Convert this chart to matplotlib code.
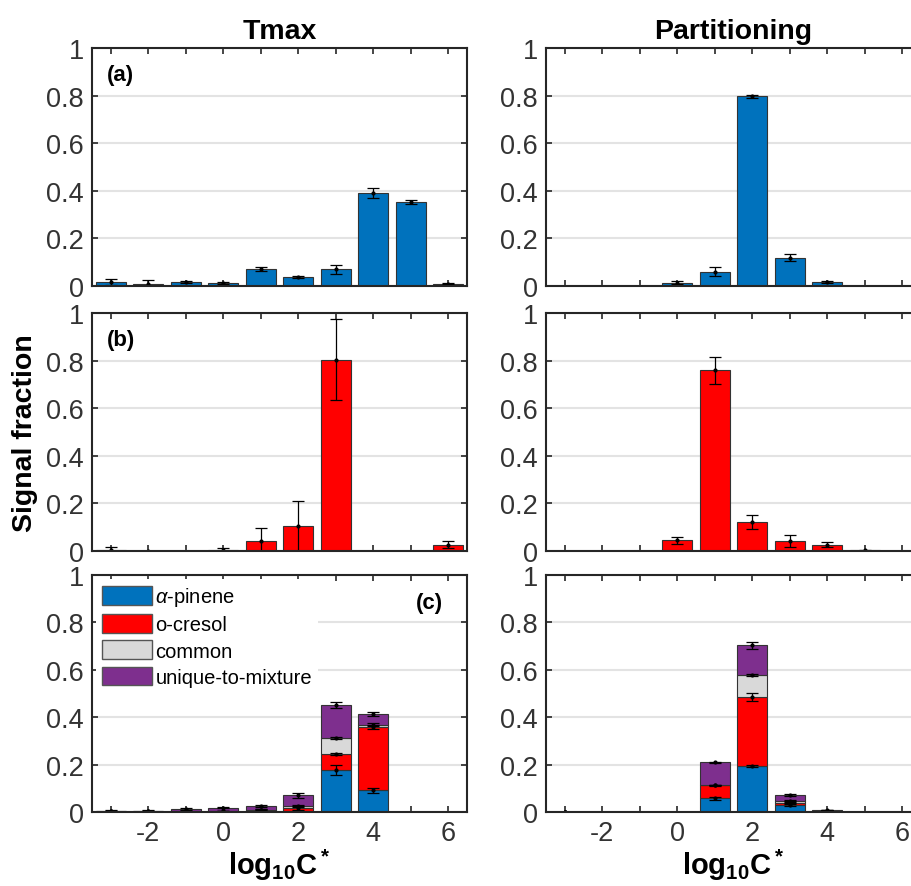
import numpy as np
import matplotlib
import matplotlib.pyplot as plt
from matplotlib.patches import Patch

params = {
    'font.family': 'Liberation Sans',
    'font.size': 15,
    'mathtext.fontset': 'custom',
    'mathtext.rm': 'Liberation Sans',
    'mathtext.it': 'Liberation Sans:italic',
    'mathtext.bf': 'Liberation Sans:bold',
    'axes.edgecolor': '#262626',
    'xtick.color': '#262626',
    'ytick.color': '#262626',
}
matplotlib.rcParams.update(params)

# log10 C* bins
logc = [-3, -2, -1, 0, 1, 2, 3, 4, 5, 6]

# (a) alpha-pinene
tmax_a = [0.017, 0.010, 0.017, 0.013, 0.073, 0.036, 0.071, 0.390, 0.352, 0.010]
tmax_a_err = [0.013, 0.017, 0.004, 0.004, 0.008, 0.004, 0.019, 0.020, 0.008, 0.003]
part_a = [0, 0, 0, 0.014, 0.059, 0.797, 0.119, 0.017, 0, 0]
part_a_err = [0, 0, 0, 0.007, 0.019, 0.007, 0.016, 0.003, 0, 0]

# (b) o-cresol
tmax_b = [0.004, 0.001, 0, 0.003, 0.043, 0.103, 0.803, 0, 0, 0.027]
tmax_b_err = [0.011, 0.001, 0, 0.009, 0.055, 0.108, 0.170, 0, 0, 0.016]
part_b = [0, 0, 0, 0.045, 0.760, 0.123, 0.041, 0.027, 0.003, 0]
part_b_err = [0, 0, 0, 0.015, 0.057, 0.030, 0.026, 0.012, 0.003, 0]

# (c) mixture, stacked components
tmax_c_pin = [0.001, 0.001, 0.001, 0.002, 0.003, 0.004, 0.178, 0.091, 0, 0]
tmax_c_cre = [0.001, 0.001, 0.001, 0.002, 0.005, 0.012, 0.067, 0.269, 0, 0]
tmax_c_com = [0.001, 0.001, 0.001, 0.001, 0.002, 0.008, 0.068, 0.009, 0, 0]
tmax_c_uni = [0.003, 0.002, 0.010, 0.013, 0.015, 0.046, 0.140, 0.045, 0, 0]
tmax_c_err = [[0.001, 0.001, 0.001, 0.002, 0.003, 0.004, 0.021, 0.010, 0, 0],
              [0.001, 0.001, 0.001, 0.002, 0.003, 0.010, 0.005, 0.008, 0, 0],
              [0.001, 0.001, 0.001, 0.001, 0.002, 0.004, 0.004, 0.005, 0, 0],
              [0.002, 0.002, 0.003, 0.003, 0.004, 0.010, 0.013, 0.008, 0, 0]]

part_c_pin = [0.0005, 0, 0, 0, 0.058, 0.193, 0.030, 0.003, 0, 0]
part_c_cre = [0.0002, 0, 0, 0, 0.055, 0.293, 0.010, 0.002, 0, 0]
part_c_com = [0.0001, 0, 0, 0, 0.001, 0.092, 0.007, 0.001, 0, 0]
part_c_uni = [0.0002, 0, 0, 0, 0.096, 0.125, 0.025, 0.002, 0, 0]
part_c_err = [[0.001, 0, 0, 0, 0.006, 0.004, 0.006, 0.001, 0, 0],
              [0.001, 0, 0, 0, 0.003, 0.018, 0.006, 0.001, 0, 0],
              [0.001, 0, 0, 0, 0.002, 0.003, 0.004, 0.001, 0, 0],
              [0.001, 0, 0, 0, 0.002, 0.014, 0.003, 0.001, 0, 0]]

blue = '#0072BD'
red = '#FF0000'
gray = '#D9D9D9'
purple = '#7E2F8E'
comp_colors = [blue, red, gray, purple]
comp_names = [r'$\alpha$-pinene', 'o-cresol', 'common', 'unique-to-mixture']

fig = plt.figure(figsize=(9.12, 8.87), dpi=100)

xl = [92 / 912, 546 / 912]
w = 375 / 912
rows = [(49, 287), (314, 552), (576, 813)]


def setup(ax, bottom_row):
    ax.set_xlim(-3.5, 6.5)
    ax.set_ylim(0, 1)
    ax.set_xticks(logc)
    if bottom_row:
        ax.set_xticklabels([str(v) if v % 2 == 0 else '' for v in logc])
    else:
        ax.set_xticklabels([])
    ax.set_yticks([0, 0.2, 0.4, 0.6, 0.8, 1])
    ax.set_yticklabels(['0', '0.2', '0.4', '0.6', '0.8', '1'])
    ax.tick_params(direction='in', length=4, width=1.2, top=True, right=True,
                   labelsize=19.5, pad=6, labelcolor='#333333')
    ax.yaxis.grid(True, color='#e3e3e3', lw=1.5)
    ax.set_axisbelow(True)
    for s in ax.spines.values():
        s.set_linewidth(1.5)


def simple(ax, vals, errs, color):
    ax.bar(logc, vals, width=0.8, color=color, edgecolor='#333333', lw=0.8)
    x = [c for c, e in zip(logc, errs) if e > 0]
    y = [v for v, e in zip(vals, errs) if e > 0]
    e = [e for e in errs if e > 0]
    ax.errorbar(x, y, yerr=e, fmt='.', color='k', ms=4, lw=0.9, capsize=4,
                capthick=0.9)


def stacked(ax, comps, errs):
    bottom = np.zeros(len(logc))
    for vals, col, err in zip(comps, comp_colors, errs):
        vals = np.array(vals)
        ax.bar(logc, vals, width=0.8, bottom=bottom, color=col,
               edgecolor='#333333', lw=0.8)
        top = bottom + vals
        m = np.array(err) > 0
        ax.errorbar(np.array(logc)[m], top[m], yerr=np.array(err)[m], fmt='.',
                    color='k', ms=4, lw=0.9, capsize=4, capthick=0.9)
        bottom = top


axes = {}
for r, (t, b) in enumerate(rows):
    for c in range(2):
        ax = fig.add_axes([xl[c], 1 - b / 887, w, (b - t) / 887])
        setup(ax, r == 2)
        axes[(r, c)] = ax

simple(axes[(0, 0)], tmax_a, tmax_a_err, blue)
simple(axes[(0, 1)], part_a, part_a_err, blue)
simple(axes[(1, 0)], tmax_b, tmax_b_err, red)
simple(axes[(1, 1)], part_b, part_b_err, red)
stacked(axes[(2, 0)], [tmax_c_pin, tmax_c_cre, tmax_c_com, tmax_c_uni], tmax_c_err)
stacked(axes[(2, 1)], [part_c_pin, part_c_cre, part_c_com, part_c_uni], part_c_err)

axes[(0, 0)].set_title('Tmax', fontsize=20.5, fontweight='bold', pad=7)
axes[(0, 1)].set_title('Partitioning', fontsize=20.5, fontweight='bold', pad=7)

axes[(0, 0)].text(0.04, 0.89, '(a)', transform=axes[(0, 0)].transAxes,
                  fontsize=16, fontweight='bold', va='center')
axes[(1, 0)].text(0.04, 0.89, '(b)', transform=axes[(1, 0)].transAxes,
                  fontsize=16, fontweight='bold', va='center')
axes[(2, 0)].text(0.935, 0.885, '(c)', transform=axes[(2, 0)].transAxes,
                  fontsize=16, fontweight='bold', va='center', ha='right')

for c in range(2):
    axes[(2, c)].set_xlabel(r'$\mathbf{log_{10}C^*}$', fontsize=21, labelpad=0)

fig.text(0.027, 1 - 433 / 887, 'Signal fraction', rotation=90, fontsize=20.5,
         fontweight='bold', ha='center', va='center')

handles = [Patch(facecolor=col, edgecolor='#555555', lw=1.0) for col in comp_colors]
leg = axes[(2, 0)].legend(handles, comp_names, loc='upper left', fontsize=14.5,
                          handlelength=2.5, handleheight=1.05, labelspacing=0.3,
                          handletextpad=0.15, borderaxespad=0.2, borderpad=0.3,
                          frameon=True, fancybox=False)
leg.get_frame().set_edgecolor('none')
leg.get_frame().set_facecolor('white')
leg.get_frame().set_alpha(1)

fig.savefig('out.png', dpi=100)
